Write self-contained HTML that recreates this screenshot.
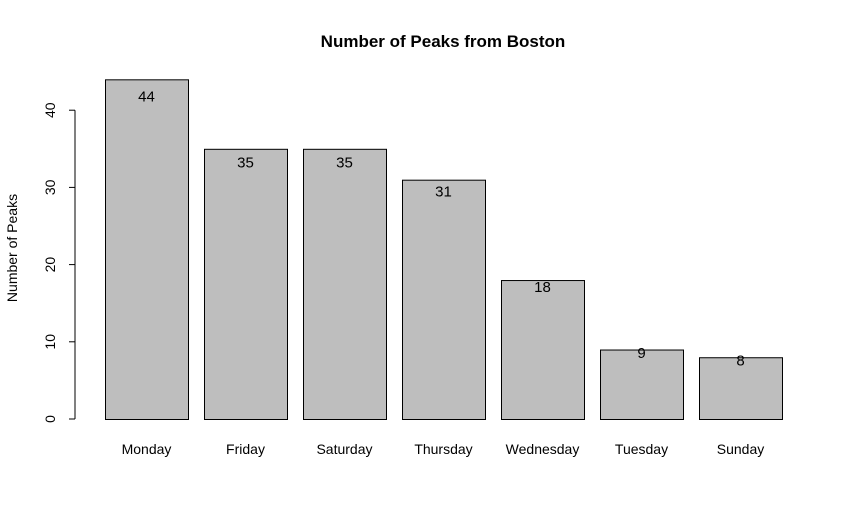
<!DOCTYPE html>
<html><head><meta charset="utf-8"><style>
body{margin:0;background:#fff}
svg{display:block;font-family:"Liberation Sans",Arial,sans-serif}
</style></head><body>
<svg id="chart" width="850" height="517" viewBox="0 0 850 517">
<rect width="850" height="517" fill="#fff"/>
<text x="443" y="47" text-anchor="middle" font-size="17" font-weight="bold">Number of Peaks from Boston</text>
<text transform="translate(17,248) rotate(-90)" text-anchor="middle" font-size="14">Number of Peaks</text>
<g id="yaxis"></g>
<g id="bars"></g>
</svg>
<script>
const categories=["Monday","Friday","Saturday","Thursday","Wednesday","Tuesday","Sunday"];
const values=[44,35,35,31,18,9,8];
const yTicks=[0,10,20,30,40];
const NS="http://www.w3.org/2000/svg";
function y(v){return 419-v*7.72;}
function x(i){return 105+i*99;}
const bw=83;
function mk(t,a,p){const e=document.createElementNS(NS,t);for(const k in a)e.setAttribute(k,a[k]);p.appendChild(e);return e;}
const ya=document.getElementById('yaxis');
const axl=mk('line',{x1:75,x2:75,y1:y(yTicks[0]),y2:y(yTicks[yTicks.length-1]),stroke:'#000'},ya);


yTicks.forEach(t=>{
 const l=mk('line',{x1:69,x2:75,y1:y(t),y2:y(t),stroke:'#000'},ya);
 
 
 const tx=mk('text',{transform:`translate(55,${y(t)}) rotate(-90)`,'text-anchor':'middle','font-size':14},ya);
 tx.textContent=t;
 
 
});
const bg=document.getElementById('bars');
categories.forEach((c,i)=>{
 const r=mk('rect',{x:x(i)+0.5,y:y(values[i])+0.5,width:bw,height:y(0)-y(values[i]),fill:'#bebebe',stroke:'#000'},bg);
 
 
 const v=mk('text',{x:x(i)+bw/2,y:y(values[i]*0.95)+5,'text-anchor':'middle','font-size':15},bg);
 v.textContent=values[i];
 
 
 const cl=mk('text',{x:x(i)+bw/2,y:454,'text-anchor':'middle','font-size':14},bg);
 cl.textContent=c;
 
 
});
</script>
</body></html>
